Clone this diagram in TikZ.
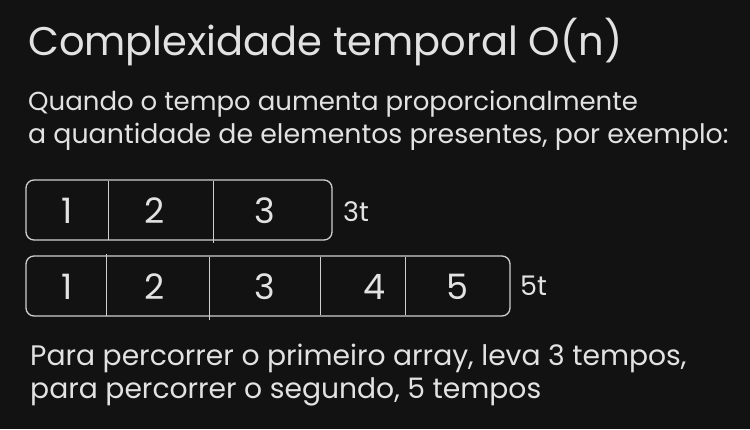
\documentclass[tikz,border=0pt]{standalone}
\usepackage{fontspec}
\setmainfont{Poppins}
\definecolor{bg}{HTML}{121212}
\definecolor{fg}{HTML}{E2E2E2}
\definecolor{ln}{HTML}{CFCFCF}
\begin{document}
\begin{tikzpicture}[x=1pt,y=-1pt,
  txt/.style={text=fg, anchor=base west, inner sep=0pt},
  ttl/.style={txt, font=\fontsize{40}{44}\selectfont},
  body/.style={txt, font=\fontsize{26}{30}\selectfont},
  body2/.style={txt, font=\fontsize{28.2}{30}\selectfont},
  num/.style={text=fg, inner sep=0pt, font=\fontsize{35}{38}\selectfont},
  arr/.style={draw=ln, line width=1.3pt, rounded corners=8pt, inner sep=0pt},
  div/.style={draw=ln, line width=1pt},
  lbl/.style={text=fg, anchor=west, inner sep=0pt, font=\fontsize{27}{30}\selectfont}]
\fill[bg] (0,0) rectangle (750,429);
\useasboundingbox (0,0) rectangle (750,429);

\node[ttl] (title) at (28,55) {Complexidade temporal O(n)};
\node[body] (l1) at (28,110) {Quando o tempo aumenta proporcionalmente};
\node[body, font=\fontsize{26.8}{30}\selectfont] (l2) at (28,143) {a quantidade de elementos presentes, por exemplo:};

% array 1
\node[arr, minimum width=306pt, minimum height=60pt] (a1) at (179,210) {};
\draw[div] (108,181) -- (108,240);
\draw[div] (213,181) -- (213,243);
\node[num] (a11) at (67,211) {1};
\node[num] (a12) at (155,211) {2};
\node[num] (a13) at (265,211) {3};
\node[lbl] (t3) at (343,212) {3t};

% array 2
\node[arr, minimum width=484pt, minimum height=60pt] (a2) at (268,286) {};
\draw[div] (106,254) -- (106,316);
\draw[div] (209,257) -- (209,320);
\draw[div] (320,257) -- (320,315);
\draw[div] (405,257) -- (405,315);
\node[num] (a21) at (67,287) {1};
\node[num] (a22) at (155,287) {2};
\node[num] (a23) at (265,287) {3};
\node[num] (a24) at (375,287) {4};
\node[num] (a25) at (457,287) {5};
\node[lbl] (t5) at (520,286) {5t};

\node[body2] (b1) at (30,365) {Para percorrer o primeiro array, leva 3 tempos,};
\node[body2] (b2) at (30,398) {para percorrer o segundo, 5 tempos};
\end{tikzpicture}
\end{document}
